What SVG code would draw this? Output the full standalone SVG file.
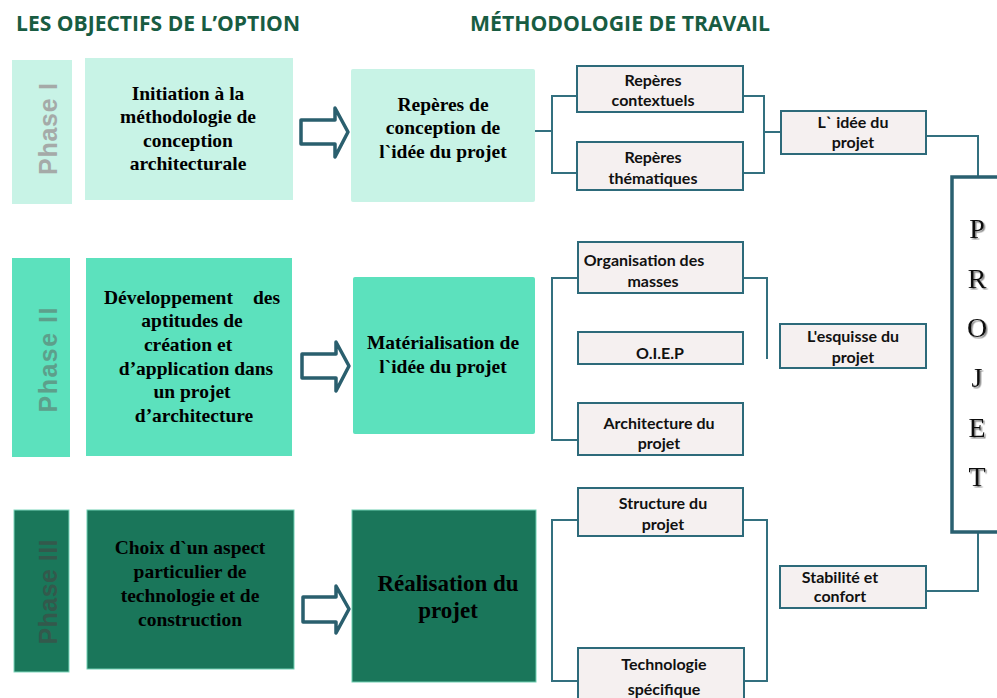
<svg xmlns="http://www.w3.org/2000/svg" width="997" height="698" viewBox="0 0 997 698">
<defs>
<style>
.title{font-family:"Open Sans","Liberation Sans",sans-serif;font-weight:bold;font-size:21px;fill:#185c42}
.phase{font-family:"Liberation Sans",Arial,sans-serif;font-weight:bold;font-size:25px;text-anchor:middle}
.big{font-family:"Liberation Serif","Times New Roman",serif;font-weight:bold;font-size:19.5px;text-anchor:middle;fill:#000}
.big2{font-size:23px}
.sm{font-family:Lato,"Open Sans",sans-serif;font-weight:bold;font-size:16px;text-anchor:middle;fill:#111}
.sbox{fill:#f5f0f0;stroke:#2d6a7a;stroke-width:2}
.conn{fill:none;stroke:#33707f;stroke-width:2}
.arrow{fill:#fff;stroke:#2a5f6e;stroke-width:3.5;stroke-linejoin:round}
.pj{font-family:"Liberation Serif","Times New Roman",serif;font-size:28px;text-anchor:middle;fill:#111}
</style>
<filter id="sh" x="-20%" y="-20%" width="150%" height="150%">
<feDropShadow dx="1.5" dy="1.5" stdDeviation="0.6" flood-color="#777" flood-opacity="0.85"/>
</filter>
</defs>
<rect width="997" height="698" fill="#fff"/>

<g id="titles">
<text class="title" x="16" y="31" textLength="284" lengthAdjust="spacingAndGlyphs">LES OBJECTIFS DE L’OPTION</text>
<text class="title" x="470" y="31" textLength="300" lengthAdjust="spacingAndGlyphs">MÉTHODOLOGIE DE TRAVAIL</text>
</g>

<g id="phase1-label">
<rect x="12" y="60" width="60" height="144" fill="#c8f3e6"/>
<text class="phase" fill="#a5aaa8" transform="translate(57,129) rotate(-90)" textLength="92">Phase I</text>
</g>
<g id="phase1-obj">
<rect x="85" y="58" width="208" height="142" fill="#c8f3e6"/>
<text class="big" x="188" y="100">Initiation à la</text>
<text class="big" x="188" y="123">méthodologie de</text>
<text class="big" x="188" y="147">conception</text>
<text class="big" x="188" y="170">architecturale</text>
</g>
<g id="phase1-method">
<rect x="351" y="69" width="184" height="133" rx="2" fill="#c8f3e6"/>
<text class="big" x="443" y="111">Repères de</text>
<text class="big" x="443" y="134">conception de</text>
<text class="big" x="443" y="158">l`idée  du projet</text>
</g>

<g id="phase2-label">
<rect x="12" y="258" width="58" height="199" fill="#5ce1bd"/>
<text class="phase" fill="#5d9f8b" transform="translate(57,360) rotate(-90)" textLength="105">Phase II</text>
</g>
<g id="phase2-obj">
<rect x="86" y="258" width="206" height="198" fill="#5ce1bd"/>
<text class="big" y="304"><tspan x="104" text-anchor="start">Développement</tspan><tspan x="280" text-anchor="end">des</tspan></text>
<text class="big" x="192" y="327">aptitudes  de</text>
<text class="big" x="188" y="351">création et</text>
<text class="big" x="196" y="375">d’application  dans</text>
<text class="big" x="192" y="398">un projet</text>
<text class="big" x="194" y="422">d’architecture</text>
</g>
<g id="phase2-method">
<rect x="353" y="277" width="182" height="157" rx="2" fill="#5ce1bd"/>
<text class="big" x="443" y="349">Matérialisation de</text>
<text class="big" x="443" y="373">l`idée du projet</text>
</g>

<g id="phase3-label">
<rect x="14" y="510" width="55" height="162" fill="#1a775a" stroke="#7fd8bd" stroke-width="1"/>
<text class="phase" fill="#33594c" transform="translate(57,592) rotate(-90)" textLength="105">Phase III</text>
</g>
<g id="phase3-obj">
<rect x="87" y="510" width="207" height="159" fill="#1a765a" stroke="#6fcfb2" stroke-width="1"/>
<text class="big" x="190" y="554">Choix d`un aspect</text>
<text class="big" x="190" y="578">particulier de</text>
<text class="big" x="190" y="602">technologie et de</text>
<text class="big" x="190" y="626">construction</text>
</g>
<g id="phase3-method">
<rect x="352" y="510" width="184" height="172" fill="#1a765a" stroke="#6fcfb2" stroke-width="1"/>
<text class="big big2" x="448" y="591">Réalisation du</text>
<text class="big big2" x="448" y="618">projet</text>
</g>

<g id="arrows">
<polygon class="arrow" points="301,120 335,120 335,108 348,132 335,157 335,144 301,144"/>
<polygon class="arrow" points="302,354 336,354 336,342 349,366 336,391 336,378 302,378"/>
<polygon class="arrow" points="303,597 336,597 336,586 349,609 336,633 336,622 303,622"/>
</g>

<g id="connectors">
<path class="conn" d="M535,131 H552 M577,96 H552 V173 H577 M743,96 H764 V173 H743 M764,132 H781 M926,136 H978 V177"/>
<path class="conn" d="M578,278 H552 V440 H578 M743,278 H767 V359"/>
<path class="conn" d="M578,520 H552 V681 H578 M743,520 H767 V681 H744 M926,591 H978 V532"/>
</g>

<g id="n-reperes-contextuels">
<rect class="sbox" x="577" y="66" width="166" height="46"/>
<text class="sm" x="653" y="86">Repères</text>
<text class="sm" x="653" y="106">contextuels</text>
</g>
<g id="n-reperes-thematiques">
<rect class="sbox" x="577" y="142" width="166" height="48"/>
<text class="sm" x="653" y="163">Repères</text>
<text class="sm" x="653" y="184">thématiques</text>
</g>
<g id="n-idee">
<rect class="sbox" x="781" y="111" width="145" height="43"/>
<text class="sm" x="853" y="128">L` idée du</text>
<text class="sm" x="853" y="148">projet</text>
</g>
<g id="n-organisation">
<rect class="sbox" x="578" y="242" width="165" height="51"/>
<text class="sm" x="644" y="266">Organisation des</text>
<text class="sm" x="653" y="287">masses</text>
</g>
<g id="n-oiep">
<rect class="sbox" x="578" y="332" width="165" height="32"/>
<text class="sm" x="660" y="359">O.I.E.P</text>
</g>
<g id="n-architecture">
<rect class="sbox" x="578" y="403" width="165" height="52"/>
<text class="sm" x="659" y="429">Architecture du</text>
<text class="sm" x="659" y="449">projet</text>
</g>
<g id="n-esquisse">
<rect class="sbox" x="780" y="324" width="146" height="44"/>
<text class="sm" x="853" y="342">L'esquisse du</text>
<text class="sm" x="853" y="363">projet</text>
</g>
<g id="n-structure">
<rect class="sbox" x="578" y="488" width="165" height="48"/>
<text class="sm" x="663" y="509">Structure du</text>
<text class="sm" x="663" y="530">projet</text>
</g>
<g id="n-technologie">
<rect class="sbox" x="578" y="648" width="166" height="60"/>
<text class="sm" x="664" y="670">Technologie</text>
<text class="sm" x="664" y="695">spécifique</text>
</g>
<g id="n-stabilite">
<rect class="sbox" x="780" y="566" width="146" height="42"/>
<text class="sm" x="840" y="583">Stabilité et</text>
<text class="sm" x="840" y="602">confort</text>
</g>
<g id="n-projet">
<rect x="952" y="177" width="60" height="355" fill="#fff" stroke="#2a6070" stroke-width="3.5"/>
<g filter="url(#sh)">
<text class="pj" x="977" y="238">P</text>
<text class="pj" x="977" y="288">R</text>
<text class="pj" x="977" y="337">O</text>
<text class="pj" x="977" y="387">J</text>
<text class="pj" x="977" y="437">E</text>
<text class="pj" x="977" y="486">T</text>
</g>
</g>
</svg>
